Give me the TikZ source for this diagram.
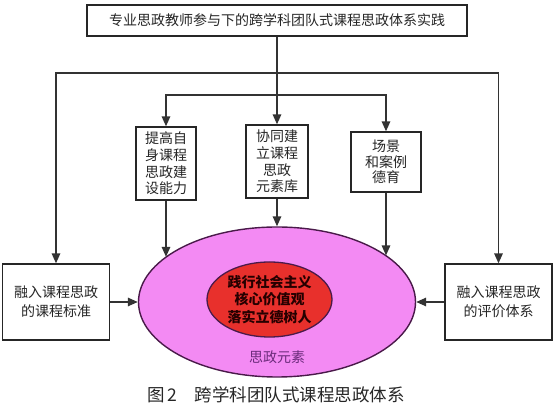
\documentclass[tikz,border=0pt]{standalone}
\usepackage{fontspec}
\setmainfont{Noto Sans CJK SC}
\usetikzlibrary{arrows.meta,shapes.geometric}
\definecolor{linegray}{HTML}{333333}
\definecolor{pinkfill}{HTML}{F38AF3}
\definecolor{plumline}{HTML}{4A1A4A}
\definecolor{redfill}{HTML}{E8302C}
\definecolor{lblpurple}{HTML}{6A2A7A}
\tikzset{
  box/.style     ={draw=black!85, line width=1.3pt, fill=white, inner sep=0pt,
                   align=center, text=black!85,
                   font=\fontsize{14}{16.7}\selectfont},
  sidebox/.style ={box, minimum width=107pt, minimum height=76pt,
                   font=\fontsize{14}{19}\selectfont},
  arr/.style     ={-{Triangle[length=10pt,width=8.5pt]}, line width=1.5pt,
                   linegray},
  outerell/.style={draw=plumline, ellipse, line width=1.4pt, fill=pinkfill,
                   minimum width=277pt, minimum height=150pt, inner sep=0pt},
  innerell/.style={draw=plumline, ellipse, line width=1.3pt, fill=redfill,
                   minimum width=125pt, minimum height=75pt, inner sep=0pt,
                   align=center, text=black!85!red,
                   font=\bfseries\fontsize{14}{17.5}\selectfont},
  capt/.style    ={font=\fontsize{17.5}{20}\selectfont, text=black!85},
}

\begin{document}
\begin{tikzpicture}[x=1pt,y=1pt]
  \useasboundingbox (0,0) rectangle (559,406);
  % top
  \node[box, minimum width=380pt, minimum height=31pt] (top) at (277,385.5)
    {专业思政教师参与下的跨学科团队式课程思政体系实践};
  \coordinate (jo) at (277,333);
  \coordinate (ji) at (277,311);
  % middle row
  \node[box, minimum width=60pt, minimum height=73pt] (b1) at (166,242.5)
    {提高自\\身课程\\思政建\\设能力};
  \node[box, minimum width=62pt, minimum height=73pt] (b2) at (277,244.5)
    {协同建\\立课程\\思政\\元素库};
  \node[box, minimum width=70pt, minimum height=60pt,
        font=\fontsize{14}{15.5}\selectfont] (b3) at (386,244)
    {场景\\和案例\\德育};
  % sides and core
  \node[sidebox] (lbox) at (56,104) {融入课程思政\\的课程标准};
  \node[sidebox] (rbox) at (498.5,104) {融入课程思政\\的评价体系};
  \node[outerell] (outer) at (277,104) {};
  \node[innerell] (core) at (269.5,106.5)
    {践行社会主义\\核心价值观\\落实立德树人};
  \node[font=\fontsize{14}{16}\selectfont, text=lblpurple] (elem) at (277,49)
    {思政元素};
  \node[capt] (cap) at (276,11) {图\,2\quad 跨学科团队式课程思政体系};

  \draw[arr] (top) -- (b2);
  \draw[arr] (jo) -| (lbox);
  \draw[arr] (jo) -| (rbox);
  \draw[arr] (ji) -| (b1);
  \draw[arr] (ji) -| (b3);
  \draw[arr] (b1) -- (b1 |- outer.158);
  \draw[arr] (b2) -- (outer);
  \draw[arr] (b3) -- (b3 |- outer.23);
  \draw[arr] (lbox) -- (outer);
  \draw[arr] (rbox) -- (outer);
\end{tikzpicture}
\end{document}
